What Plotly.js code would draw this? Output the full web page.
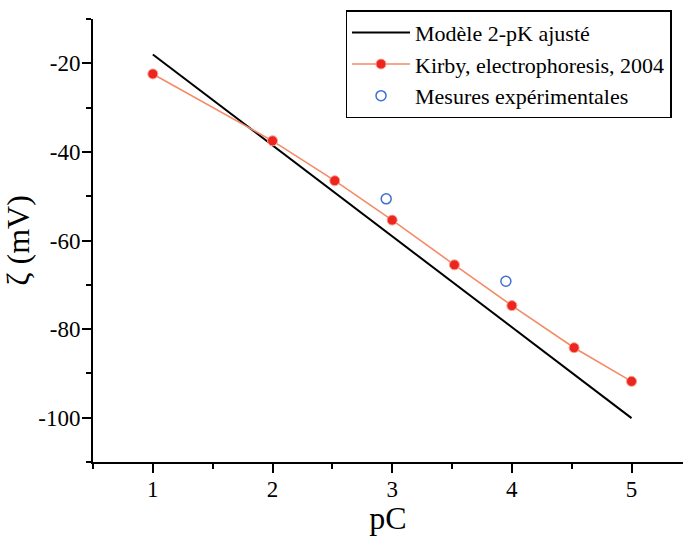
<!DOCTYPE html>
<html>
<head>
<meta charset="utf-8">
<script src="https://cdn.plot.ly/plotly-3.0.1.min.js"></script>
<style>html,body{margin:0;padding:0;background:#fff;}#chart{width:683px;height:536px;}</style>
</head>
<body>
<div id="chart"></div>
<script>
// Data
const modelX = [1, 5];
const modelY = [-18.0, -100.1];

const kirbyX = [1, 2, 2.52, 3, 3.52, 4, 4.52, 5];
const kirbyY = [-22.4, -37.5, -46.5, -55.4, -65.5, -74.7, -84.2, -91.8];

const mesX = [2.95, 3.95];
const mesY = [-50.6, -69.2];

const xTickVals = [1, 2, 3, 4, 5];
const xTickText = ['1', '2', '3', '4', '5'];
const yTickVals = [-20, -40, -60, -80, -100];
const yTickText = ['-20', '-40', '-60', '-80', '-100'];

const names = ['Modèle 2-pK ajusté', 'Kirby, electrophoresis, 2004', 'Mesures expérimentales'];

const font = '"Liberation Serif", "Times New Roman", serif';

const traces = [
  {x: modelX, y: modelY, name: names[0], type: 'scatter', mode: 'lines',
   line: {color: '#000000', width: 2}},
  {x: kirbyX, y: kirbyY, name: names[1], type: 'scatter', mode: 'lines+markers',
   line: {color: '#f58a66', width: 1.6},
   marker: {color: '#ec2520', size: 10, line: {color: '#f7a28a', width: 1}}},
  {x: mesX, y: mesY, name: names[2], type: 'scatter', mode: 'markers',
   marker: {symbol: 'circle-open', color: '#3f6fd3', size: 10, line: {width: 1.5, color: '#3f6fd3'}}}
];

const layout = {
  width: 683, height: 536,
  margin: {l: 93, r: 0, t: 19, b: 74},
  paper_bgcolor: '#ffffff', plot_bgcolor: '#ffffff',
  font: {family: font, size: 22, color: '#000'},
  showlegend: true,
  legend: {
    x: 0.428, y: 1.02, xanchor: 'left', yanchor: 'top',
    bgcolor: '#ffffff', bordercolor: '#000', borderwidth: 1.5,
    font: {family: font, size: 22, color: '#000'},
    tracegroupgap: 0, itemwidth: 58
  },
  xaxis: {
    range: [0.5, 5.43], showgrid: false, zeroline: false,
    showline: true, linecolor: '#000', linewidth: 2,
    ticks: 'outside', ticklen: 9, tickwidth: 2, tickcolor: '#000',
    tickvals: xTickVals, ticktext: xTickText, ticklabelstandoff: -4,
    tickfont: {family: font, size: 23, color: '#000'},
    minor: {dtick: 0.5, tick0: 0.5, ticks: 'outside', ticklen: 5, tickwidth: 2, tickcolor: '#000', showgrid: false},
    title: {text: 'pC', font: {family: font, size: 32, color: '#000'}, standoff: 8}
  },
  yaxis: {
    range: [-110, -10], showgrid: false, zeroline: false,
    showline: true, linecolor: '#000', linewidth: 2,
    ticks: 'outside', ticklen: 9, tickwidth: 2, tickcolor: '#000',
    tickvals: yTickVals, ticktext: yTickText, ticklabelstandoff: -3,
    tickfont: {family: font, size: 23, color: '#000'},
    minor: {dtick: 10, tick0: -10, ticks: 'outside', ticklen: 5, tickwidth: 2, tickcolor: '#000', showgrid: false},
    title: {text: 'ζ (mV)', font: {family: font, size: 32, color: '#000'}, standoff: 0}
  }
};

Plotly.newPlot('chart', traces, layout, {displayModeBar: false, staticPlot: true});
</script>
</body>
</html>
